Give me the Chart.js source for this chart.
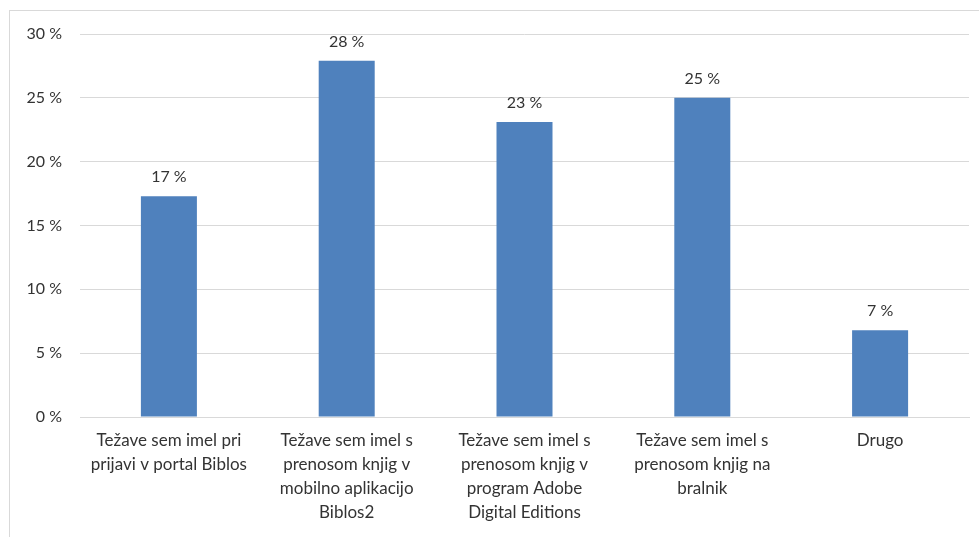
<!DOCTYPE html>
<html>
<head>
<meta charset="utf-8">
<script src="https://cdn.jsdelivr.net/npm/chart.js@4"></script>
<style>
  html, body { margin: 0; padding: 0; background: #fff; overflow: hidden; }
  #frame { position: absolute; left: 9px; top: 10px; width: 990px; height: 560px; border: 1px solid #d9d9d9; box-sizing: border-box; }
  #wrap { position: absolute; left: 0; top: 0; width: 979px; height: 537px; }
</style>
</head>
<body>
<div id="frame"></div>
<div id="wrap"><canvas id="c" width="979" height="537"></canvas></div>
<script>
const categories = [
  ["Težave sem imel pri", "prijavi v portal Biblos"],
  ["Težave sem imel s", "prenosom knjig v", "mobilno aplikacijo", "Biblos2"],
  ["Težave sem imel s", "prenosom knjig v", "program Adobe", "Digital Editions"],
  ["Težave sem imel s", "prenosom knjig na", "bralnik"],
  ["Drugo"]
];
const values = [17.3, 27.9, 23.1, 25.0, 6.8];
const valueLabels = ["17 %", "28 %", "23 %", "25 %", "7 %"];
const yTicks = [0, 5, 10, 15, 20, 25, 30];

const FONT = "Lato, 'Liberation Sans', sans-serif";
const TEXT = "#333333";

const dataLabels = {
  id: 'dataLabels',
  afterDatasetsDraw(chart) {
    const ctx = chart.ctx;
    const meta = chart.getDatasetMeta(0);
    ctx.save();
    ctx.font = "16px " + FONT;
    ctx.fillStyle = TEXT;
    ctx.textAlign = 'center';
    ctx.textBaseline = 'alphabetic';
    meta.data.forEach((bar, i) => {
      ctx.fillText(valueLabels[i], bar.x, bar.y - 14);
    });
    ctx.restore();
  }
};

new Chart(document.getElementById('c'), {
  type: 'bar',
  data: {
    labels: categories,
    datasets: [{
      data: values,
      backgroundColor: '#4f81bd',
      borderWidth: 0,
      categoryPercentage: 1,
      barPercentage: 0.315
    }]
  },
  options: {
    responsive: false,
    animation: false,
    events: [],
    layout: { padding: { top: 34, right: 10, left: 0, bottom: 0 } },
    plugins: { legend: { display: false }, tooltip: { enabled: false } },
    scales: {
      x: {
        grid: { display: false, drawTicks: false },
        border: { display: true, color: '#d9d9d9', width: 1 },
        ticks: {
          color: TEXT,
          font: { family: FONT, size: 17, lineHeight: '24px' },
          padding: 12,
          maxRotation: 0,
          autoSkip: false
        },
        afterFit(s) { s.height = 120; }
      },
      y: {
        min: 0, max: 30,
        afterBuildTicks(s) { s.ticks = yTicks.map(v => ({ value: v })); },
        grid: { color: '#d9d9d9', drawTicks: false, lineWidth: 1 },
        border: { display: false },
        ticks: {
          color: TEXT,
          font: { family: FONT, size: 16 },
          padding: 18,
          callback: v => v + ' %'
        },
        afterFit(s) { s.width = 80; }
      }
    }
  },
  plugins: [dataLabels]
});
</script>
</body>
</html>
